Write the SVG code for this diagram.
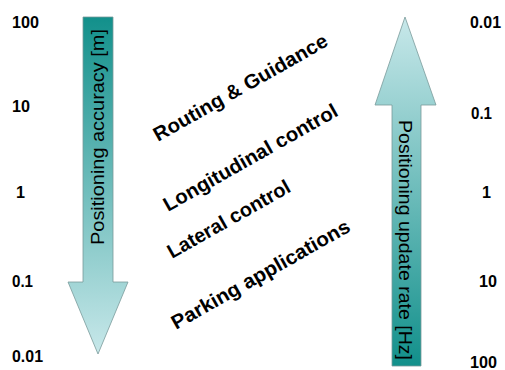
<svg xmlns="http://www.w3.org/2000/svg" width="505" height="370" viewBox="0 0 505 370">
<style>
.num{font-family:"Liberation Sans",Arial,sans-serif;font-weight:bold;font-size:16.5px;fill:#000}
.app{font-family:"Liberation Sans",Arial,sans-serif;font-weight:bold;font-size:20px;fill:#000}
.axis{font-family:"Liberation Sans",Arial,sans-serif;font-size:18px;fill:#000}
.arrow{stroke:#7a9a9a;stroke-width:0.8}
</style>
<defs>
<linearGradient id="gDown" x1="0" y1="0" x2="0" y2="1">
<stop offset="0" stop-color="#12908b"/>
<stop offset="1" stop-color="#c8e8ea"/>
</linearGradient>
<linearGradient id="gUp" x1="0" y1="0" x2="0" y2="1">
<stop offset="0" stop-color="#c8e8ea"/>
<stop offset="1" stop-color="#12908b"/>
</linearGradient>
</defs>
<g id="left-scale">
<text class="num" x="12" y="28" textLength="27" lengthAdjust="spacingAndGlyphs">100</text>
<text class="num" x="12" y="112" textLength="18" lengthAdjust="spacingAndGlyphs">10</text>
<text class="num" x="16" y="198" textLength="9" lengthAdjust="spacingAndGlyphs">1</text>
<text class="num" x="12" y="287" textLength="21" lengthAdjust="spacingAndGlyphs">0.1</text>
<text class="num" x="12" y="362" textLength="31" lengthAdjust="spacingAndGlyphs">0.01</text>
</g>
<g id="right-scale">
<text class="num" x="470" y="28" textLength="31" lengthAdjust="spacingAndGlyphs">0.01</text>
<text class="num" x="471" y="119" textLength="21" lengthAdjust="spacingAndGlyphs">0.1</text>
<text class="num" x="482" y="198" textLength="9" lengthAdjust="spacingAndGlyphs">1</text>
<text class="num" x="479" y="287" textLength="18" lengthAdjust="spacingAndGlyphs">10</text>
<text class="num" x="470" y="368" textLength="27" lengthAdjust="spacingAndGlyphs">100</text>
</g>
<g id="accuracy-arrow">
<polygon class="arrow" fill="url(#gDown)" points="83,17 113,17 113,282 128,282 98,354 68,282 83,282"/>
<text class="axis" transform="translate(104,245) rotate(-90)" textLength="216" lengthAdjust="spacingAndGlyphs">Positioning accuracy [m]</text>
</g>
<g id="update-rate-arrow">
<polygon class="arrow" fill="url(#gUp)" points="405,17 436,105 421,105 421,366 392,366 392,105 375,105"/>
<text class="axis" transform="translate(399,120) rotate(90)" textLength="240" lengthAdjust="spacingAndGlyphs">Positioning update rate [Hz]</text>
</g>
<g id="applications">
<text class="app" transform="translate(158,142) rotate(-29.5)" textLength="197" lengthAdjust="spacingAndGlyphs">Routing &amp; Guidance</text>
<text class="app" transform="translate(168,212) rotate(-29.5)" textLength="197" lengthAdjust="spacingAndGlyphs">Longitudinal control</text>
<text class="app" transform="translate(172,259) rotate(-29.5)" textLength="138" lengthAdjust="spacingAndGlyphs">Lateral control</text>
<text class="app" transform="translate(176,330) rotate(-29.5)" textLength="202" lengthAdjust="spacingAndGlyphs">Parking applications</text>
</g>
<g id="connectors"></g>
</svg>
